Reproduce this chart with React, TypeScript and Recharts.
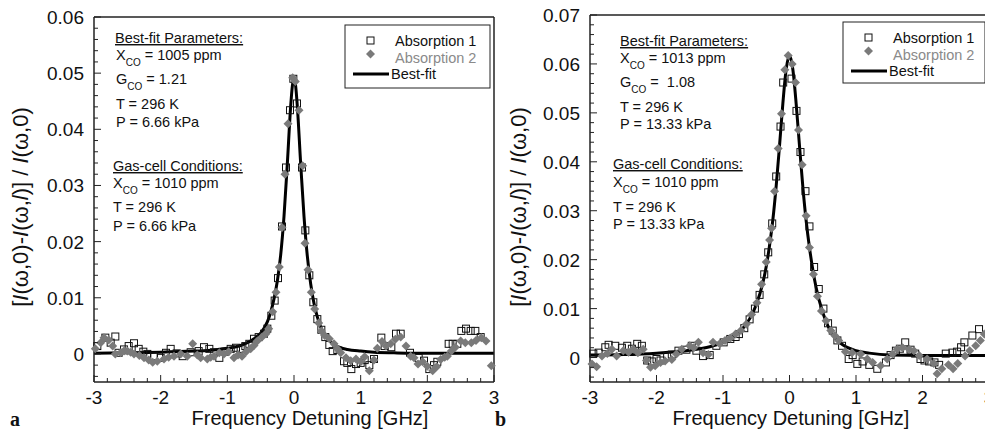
import React from 'react';
import { ComposedChart, Scatter, Line, XAxis, YAxis } from 'recharts';

const SANS = '"Liberation Sans", Arial, Helvetica, sans-serif';
const SERIF = '"Liberation Serif", "Times New Roman", serif';
const AXIS = '#222';
const GREY = '#7a7a7a';

type Pt = [number, number];

// ---- panel a: 6.66 kPa ----
const abs1A: Pt[] = [
  [-2.95, 0.0014], [-2.83, 0.0029], [-2.75, 0.002], [-2.68, 0.0031], [-2.63, 0.0002], [-2.55, 0.0008],
  [-2.48, 0.0014], [-2.4, 0.0019], [-2.33, 0.0009], [-2.26, 0.0004], [-2.2, 0.0], [-2.1, -0.0004],
  [-2.0, -0.0007], [-1.92, 0.0002], [-1.85, 0.0009], [-1.76, 0.0001], [-1.67, -0.0004], [-1.55, 0.0003],
  [-1.43, 0.0005], [-1.35, 0.0012], [-1.27, 0.0009], [-1.2, 0.0003], [-1.12, -0.0007], [-1.03, 0.0004],
  [-0.95, 0.0009], [-0.87, 0.0011], [-0.8, 0.0009], [-0.73, 0.0014], [-0.67, 0.0018], [-0.6, 0.0027],
  [-0.53, 0.003], [-0.45, 0.0036], [-0.4, 0.0045], [-0.34, 0.0068], [-0.29, 0.0095], [-0.24, 0.0135],
  [-0.18, 0.0227], [-0.12, 0.0332], [-0.06, 0.0434], [-0.01, 0.049], [0.045, 0.0446], [0.12, 0.0332],
  [0.17, 0.022], [0.23, 0.014], [0.29, 0.0092], [0.35, 0.0062], [0.41, 0.0043], [0.47, 0.003],
  [0.53, 0.0016], [0.58, 0.0005], [0.65, 0.0007], [0.75, -0.0013], [0.8, -0.0016], [0.86, -0.0027],
  [0.93, -0.0018], [1.0, -0.0016], [1.06, -0.0011], [1.13, -0.002], [1.2, -0.0009], [1.31, 0.0029],
  [1.36, 0.0014], [1.46, 0.0012], [1.53, 0.0036], [1.6, 0.0036], [1.74, 0.0002], [1.87, -0.0007],
  [1.95, -0.0012], [2.03, -0.0027], [2.1, -0.002], [2.15, -0.0014], [2.32, 0.0018], [2.38, 0.0018],
  [2.45, 0.0018], [2.51, 0.0041], [2.58, 0.0045], [2.65, 0.0041], [2.72, 0.0041], [2.8, 0.003],
];
const abs2A: Pt[] = [
  [-2.98, 0.0009], [-2.9, 0.002], [-2.85, 0.0029], [-2.78, 0.0025], [-2.72, 0.0014], [-2.68, 0.0],
  [-2.6, 0.0002], [-2.55, 0.0005], [-2.5, 0.0005], [-2.45, 0.0003], [-2.4, 0.0], [-2.32, -0.0003],
  [-2.25, -0.0007], [-2.18, -0.0011], [-2.12, -0.0015], [-2.05, -0.0013], [-1.95, -0.0009], [-1.88, -0.0006],
  [-1.8, -0.0004], [-1.7, 0.0], [-1.6, -0.0004], [-1.52, 0.0018], [-1.45, -0.0002], [-1.4, -0.0007],
  [-1.3, -0.0009], [-1.25, -0.0006], [-1.2, -0.0004], [-1.12, 0.0002], [-1.05, 0.0], [-0.98, 0.0004],
  [-0.9, -0.0007], [-0.84, -0.0002], [-0.78, -0.0004], [-0.72, 0.0004], [-0.65, 0.0009], [-0.6, 0.0015],
  [-0.55, 0.0023], [-0.48, 0.003], [-0.42, 0.0036], [-0.38, 0.0045], [-0.32, 0.0075], [-0.27, 0.011],
  [-0.22, 0.0155], [-0.18, 0.0225], [-0.135, 0.032], [-0.09, 0.041], [-0.02, 0.0492], [0.02, 0.0485],
  [0.075, 0.0434], [0.13, 0.0335], [0.165, 0.0197], [0.21, 0.015], [0.26, 0.011], [0.31, 0.008],
  [0.37, 0.0055], [0.41, 0.0041], [0.46, 0.0033], [0.53, 0.0027], [0.6, 0.0018], [0.65, 0.0009],
  [0.7, 0.0002], [0.78, -0.0007], [0.85, -0.0012], [0.93, -0.0009], [1.0, -0.0014], [1.06, -0.0005],
  [1.13, -0.003], [1.2, -0.0011], [1.25, 0.001], [1.32, 0.0022], [1.38, 0.0014], [1.45, 0.0018],
  [1.52, 0.0026], [1.6, 0.003], [1.68, 0.0014], [1.75, -0.0004], [1.8, -0.0007], [1.86, -0.0018],
  [1.93, -0.0014], [2.0, -0.0022], [2.08, -0.003], [2.14, -0.0023], [2.2, -0.001], [2.26, -0.0006],
  [2.3, -0.0004], [2.36, 0.0005], [2.42, 0.0012], [2.5, 0.0023], [2.57, 0.002], [2.66, 0.002],
  [2.73, 0.0024], [2.81, 0.0029], [2.88, 0.0023], [2.96, -0.0021],
];
const fitA: Pt[] = [
  [-3, 0.0001], [-2.5, 0.0002], [-2, 0.0003], [-1.5, 0.0005], [-1.2, 0.0007], [-1.0, 0.001],
  [-0.8, 0.0015], [-0.7, 0.002], [-0.6, 0.0027], [-0.5, 0.0037], [-0.4, 0.0057], [-0.35, 0.0074],
  [-0.3, 0.0098], [-0.25, 0.013], [-0.2, 0.0176], [-0.15, 0.0245], [-0.1, 0.0339], [-0.05, 0.0441],
  [-0.025, 0.0477], [0, 0.0492], [0.025, 0.0477], [0.05, 0.0441], [0.1, 0.0339], [0.15, 0.0245],
  [0.2, 0.0174], [0.25, 0.0125], [0.3, 0.009], [0.35, 0.0066], [0.4, 0.0048], [0.5, 0.0028],
  [0.6, 0.0017], [0.7, 0.0011], [0.8, 0.0008], [1.0, 0.0005], [1.2, 0.0003], [1.5, 0.0002],
  [2, 0.0001], [3, 0.0001],
];

// ---- panel b: 13.33 kPa ----
const abs1B: Pt[] = [
  [-2.95, 0.0008], [-2.87, 0.001], [-2.77, 0.0021], [-2.72, 0.0026], [-2.62, 0.0024], [-2.52, 0.002],
  [-2.44, 0.0024], [-2.37, 0.0018], [-2.29, 0.0028], [-2.22, 0.0024], [-2.14, -0.0006], [-2.07, -0.0008],
  [-2.0, -0.0003], [-1.94, -0.0006], [-1.84, 0.0003], [-1.77, 0.0006], [-1.67, 0.0014], [-1.55, 0.0016],
  [-1.47, 0.0024], [-1.4, 0.0014], [-1.3, 0.0003], [-1.2, 0.0005], [-1.1, 0.0024], [-0.99, 0.0031],
  [-0.89, 0.0038], [-0.81, 0.0042], [-0.76, 0.0048], [-0.68, 0.006], [-0.6, 0.0078], [-0.52, 0.01],
  [-0.45, 0.0128], [-0.38, 0.017], [-0.32, 0.0215], [-0.26, 0.0274], [-0.2, 0.037], [-0.135, 0.0472],
  [-0.095, 0.0562], [0.03, 0.057], [0.105, 0.0504], [0.165, 0.042], [0.24, 0.034], [0.3, 0.0268],
  [0.37, 0.0185], [0.44, 0.014], [0.51, 0.01], [0.58, 0.007], [0.65, 0.0055], [0.72, 0.0035],
  [0.79, 0.0024], [0.89, -0.0003], [0.95, 0.0005], [1.02, -0.0013], [1.1, -0.0008], [1.2, -0.0015],
  [1.32, -0.0023], [1.45, -0.001], [1.52, 0.0005], [1.6, 0.0014], [1.66, 0.0018], [1.74, 0.0031],
  [1.82, 0.0016], [1.89, 0.0008], [1.97, -0.0003], [2.03, -0.0006], [2.1, -0.0008], [2.18, -0.001],
  [2.25, -0.0015], [2.35, 0.0008], [2.45, 0.001], [2.52, 0.0012], [2.58, 0.0021], [2.63, 0.0031],
  [2.75, 0.0045], [2.85, 0.0058],
];
const abs2B: Pt[] = [
  [-2.97, -0.0013], [-2.9, -0.0019], [-2.82, 0.0003], [-2.74, 0.0008], [-2.67, 0.0017], [-2.6, 0.0003],
  [-2.5, 0.0014], [-2.42, 0.0011], [-2.35, 0.0017], [-2.28, 0.001], [-2.2, 0.0017], [-2.15, -0.0006],
  [-2.09, -0.002], [-2.02, -0.0017], [-1.94, -0.001], [-1.87, -0.0007], [-1.77, -0.0004], [-1.7, 0.0007],
  [-1.62, 0.0017], [-1.5, 0.0024], [-1.44, 0.002], [-1.37, 0.0031], [-1.3, 0.001], [-1.22, 0.0006],
  [-1.15, 0.0031], [-1.05, 0.0028], [-0.97, 0.0035], [-0.89, 0.004], [-0.81, 0.0048], [-0.73, 0.0055],
  [-0.65, 0.0068], [-0.57, 0.0088], [-0.49, 0.0112], [-0.42, 0.015], [-0.35, 0.0195], [-0.3, 0.024],
  [-0.27, 0.0264], [-0.225, 0.034], [-0.17, 0.0427], [-0.12, 0.0498], [-0.07, 0.0588], [-0.02, 0.0617],
  [0.04, 0.06], [0.09, 0.0562], [0.135, 0.0465], [0.19, 0.0394], [0.25, 0.029], [0.3, 0.0225],
  [0.36, 0.017], [0.42, 0.0125], [0.48, 0.0095], [0.55, 0.0075], [0.62, 0.0055], [0.68, 0.0045],
  [0.74, 0.0035], [0.84, 0.0012], [0.94, 0.001], [1.07, 0.0007], [1.17, -0.0003], [1.25, -0.001],
  [1.37, -0.0017], [1.47, -0.0003], [1.55, 0.0007], [1.62, 0.0017], [1.7, 0.002], [1.8, 0.0017],
  [1.87, 0.0014], [1.95, 0.0004], [2.07, -0.0003], [2.17, -0.0012], [2.22, -0.0033], [2.29, -0.0023],
  [2.39, -0.0015], [2.46, -0.0023], [2.53, -0.0012], [2.64, 0.0003], [2.71, 0.0014], [2.8, 0.0024],
  [2.87, 0.0035], [2.93, 0.0048],
];
const fitB: Pt[] = [
  [-3, 0.0005], [-2.5, 0.0006], [-2, 0.0009], [-1.5, 0.0015], [-1.2, 0.0022], [-1.0, 0.0031],
  [-0.8, 0.0047], [-0.7, 0.006], [-0.6, 0.0079], [-0.5, 0.0108], [-0.4, 0.0153], [-0.35, 0.0186],
  [-0.3, 0.0229], [-0.25, 0.0282], [-0.2, 0.0351], [-0.15, 0.0433], [-0.1, 0.0519], [-0.05, 0.0589],
  [0, 0.0617], [0.05, 0.0589], [0.1, 0.0519], [0.15, 0.0433], [0.2, 0.035], [0.25, 0.028],
  [0.3, 0.0225], [0.35, 0.018], [0.4, 0.0143], [0.5, 0.0092], [0.6, 0.0058], [0.7, 0.0038],
  [0.8, 0.0026], [1.0, 0.0014], [1.2, 0.0009], [1.5, 0.0005], [2, 0.0004], [2.5, 0.0004], [3, 0.0004],
];

// ticks: major every 1 GHz / 0.01, minor every 0.2 GHz / 0.002
const xTicks = Array.from({ length: 31 }, (_, i) => Math.round((-3 + i * 0.2) * 10) / 10);
const yTicksA = Array.from({ length: 33 }, (_, i) => Math.round((-0.004 + i * 0.002) * 1000) / 1000);
const yTicksB = Array.from({ length: 38 }, (_, i) => Math.round((-0.004 + i * 0.002) * 1000) / 1000);

const toXY = (pts: Pt[]) => pts.map(([x, y]) => ({ x, y }));
const isMajorX = (v: number) => Math.abs(v - Math.round(v)) < 1e-6;
const isMajorY = (v: number) => Math.abs(v * 100 - Math.round(v * 100)) < 1e-6;
const MAJOR = 7;
const MINOR = 4;

const BottomTick = ({ x, y, payload }: any) => {
  const major = isMajorX(payload.value);
  return (
    <g>
      <line x1={x} x2={x} y1={y} y2={y - (major ? MAJOR : MINOR)} stroke={AXIS} />
      {major && (
        <text x={x} y={y + 22} textAnchor="middle" fontSize={19} fontFamily={SANS} fill="#111">
          {payload.value}
        </text>
      )}
    </g>
  );
};
const TopTick = ({ x, y, payload }: any) => (
  <line x1={x} x2={x} y1={y} y2={y + (isMajorX(payload.value) ? MAJOR : MINOR)} stroke={AXIS} />
);
const LeftTick = ({ x, y, payload }: any) => {
  const major = isMajorY(payload.value);
  return (
    <g>
      <line x1={x} x2={x + (major ? MAJOR : MINOR)} y1={y} y2={y} stroke={AXIS} />
      {major && (
        <text x={x - 10} y={y + 7} textAnchor="end" fontSize={19} fontFamily={SANS} fill="#111">
          {payload.value === 0 ? '0' : payload.value.toFixed(2)}
        </text>
      )}
    </g>
  );
};
const RightTick = ({ x, y, payload }: any) => (
  <line x1={x} x2={x - (isMajorY(payload.value) ? MAJOR : MINOR)} y1={y} y2={y} stroke={AXIS} />
);

const Square = (p: any) => (
  <rect x={p.cx - 3.5} y={p.cy - 3.5} width={7} height={7} fill="none" stroke="#111" strokeWidth={1} />
);
const Diamond = (p: any) => (
  <polygon
    points={`${p.cx},${p.cy - 4.5} ${p.cx + 4.5},${p.cy} ${p.cx},${p.cy + 4.5} ${p.cx - 4.5},${p.cy}`}
    fill={GREY}
  />
);

type PanelProps = {
  left: number;
  margin: { top: number; right: number; bottom: number; left: number };
  yMax: number;
  yTicks: number[];
  abs1: Pt[];
  abs2: Pt[];
  fit: Pt[];
};

const Panel = ({ left, margin, yMax, yTicks, abs1, abs2, fit }: PanelProps) => {
  const axisLine = { stroke: AXIS, strokeWidth: 1.5 };
  return (
    <div style={{ position: 'absolute', left, top: 0 }}>
      <ComposedChart width={500} height={432} margin={margin}>
        <XAxis xAxisId="b" dataKey="x" type="number" domain={[-3, 3]} ticks={xTicks} interval={0}
          height={30} tickSize={0} tickMargin={0} tickLine={false} axisLine={axisLine} tick={BottomTick} />
        <XAxis xAxisId="t" orientation="top" dataKey="x" type="number" domain={[-3, 3]} ticks={xTicks}
          interval={0} height={1} tickSize={0} tickMargin={0} tickLine={false} axisLine={axisLine} tick={TopTick} />
        <YAxis yAxisId="l" dataKey="y" type="number" domain={[-0.005, yMax]} ticks={yTicks} interval={0}
          width={60} tickSize={0} tickMargin={0} tickLine={false} axisLine={axisLine} tick={LeftTick} />
        <YAxis yAxisId="r" orientation="right" dataKey="y" type="number" domain={[-0.005, yMax]} ticks={yTicks}
          interval={0} width={1} tickSize={0} tickMargin={0} tickLine={false} axisLine={axisLine} tick={RightTick} />
        <Line xAxisId="b" yAxisId="l" data={toXY(fit)} dataKey="y" type="monotone" dot={false}
          stroke="#000" strokeWidth={3} isAnimationActive={false} />
        <Scatter xAxisId="b" yAxisId="l" data={toXY(abs1)} shape={Square} isAnimationActive={false} />
        <Scatter xAxisId="b" yAxisId="l" data={toXY(abs2)} shape={Diamond} isAnimationActive={false} />
      </ComposedChart>
    </div>
  );
};

const txt = { fontFamily: SANS, fontSize: 14.5, fill: '#111' };

const SubLine = ({ x, y, pre, post }: { x: number; y: number; pre: string; post: string }) => (
  <text x={x} y={y} {...txt}>
    <tspan>{pre}</tspan>
    <tspan dy={6} fontSize={10}>CO</tspan>
    <tspan dy={-6} style={{ whiteSpace: 'pre' }}>{post}</tspan>
  </text>
);

const Legend = ({ x, y, w, h }: { x: number; y: number; w: number; h: number }) => (
  <g>
    <rect x={x} y={y} width={w} height={h} fill="#fff" stroke="#222" strokeWidth={1} />
    <rect x={x + 22} y={y + 12} width={7} height={7} fill="none" stroke="#111" />
    <text x={x + 50} y={y + 21} {...txt}>Absorption 1</text>
    <polygon points={`${x + 25.5},${y + 24.5} ${x + 30},${y + 29} ${x + 25.5},${y + 33.5} ${x + 21},${y + 29}`} fill={GREY} />
    <text x={x + 50} y={y + 38} {...txt} fill="#8a8a8a">Absorption 2</text>
    <line x1={x + 8} x2={x + 44} y1={y + 49} y2={y + 49} stroke="#000" strokeWidth={3} />
    <text x={x + 46} y={y + 54} {...txt}>Best-fit</text>
  </g>
);

const YLabel = ({ cx, cy }: { cx: number; cy: number }) => (
  <text transform={`translate(${cx},${cy}) rotate(-90)`} textAnchor="middle" fontFamily={SANS} fontSize={22} fill="#111">
    [<tspan fontStyle="italic">I</tspan>(ω,0)-<tspan fontStyle="italic">I</tspan>(ω,<tspan fontStyle="italic">l</tspan>)] / <tspan fontStyle="italic">I</tspan>(ω,0)
  </text>
);

export default function App() {
  return (
    <div style={{ position: 'absolute', left: 0, top: 0, width: 985, height: 432, overflow: 'hidden', background: '#fff' }}>
      <Panel left={0} margin={{ top: 16, right: 5, bottom: 20, left: 34 }} yMax={0.06} yTicks={yTicksA}
        abs1={abs1A} abs2={abs2A} fit={fitA} />
      <Panel left={500} margin={{ top: 14, right: 10, bottom: 20, left: 30 }} yMax={0.07} yTicks={yTicksB}
        abs1={abs1B} abs2={abs2B} fit={fitB} />
      <svg width={985} height={432} style={{ position: 'absolute', left: 0, top: 0, pointerEvents: 'none' }}>
        {/* panel a annotations */}
        <text x={115} y={43} {...txt} style={{ textDecoration: 'underline' }}>Best-fit Parameters:</text>
        <SubLine x={116} y={60} pre="X" post=" = 1005 ppm" />
        <SubLine x={116} y={84} pre="G" post=" = 1.21" />
        <text x={116} y={109} {...txt}>T = 296 K</text>
        <text x={116} y={127} {...txt}>P = 6.66 kPa</text>
        <text x={113} y={171} {...txt} style={{ textDecoration: 'underline' }}>Gas-cell Conditions:</text>
        <SubLine x={113} y={188} pre="X" post=" = 1010 ppm" />
        <text x={113} y={212} {...txt}>T = 296 K</text>
        <text x={113} y={231} {...txt}>P = 6.66 kPa</text>
        <Legend x={345} y={25} w={145} h={63} />

        {/* panel b annotations */}
        <text x={620} y={46} {...txt} style={{ textDecoration: 'underline' }}>Best-fit Parameters:</text>
        <SubLine x={620} y={63} pre="X" post=" = 1013 ppm" />
        <SubLine x={620} y={87} pre="G" post=" =  1.08" />
        <text x={620} y={112} {...txt}>T = 296 K</text>
        <text x={620} y={129} {...txt}>P = 13.33 kPa</text>
        <text x={613} y={169} {...txt} style={{ textDecoration: 'underline' }}>Gas-cell Conditions:</text>
        <SubLine x={613} y={187} pre="X" post=" = 1010 ppm" />
        <text x={613} y={212} {...txt}>T = 296 K</text>
        <text x={613} y={229} {...txt}>P = 13.33 kPa</text>
        <Legend x={843} y={22} w={142} h={61} />

        {/* axis titles */}
        <YLabel cx={28} cy={207} />
        <YLabel cx={526} cy={207} />
        <text x={310} y={425} textAnchor="middle" fontFamily={SANS} fontSize={20} fill="#111">Frequency Detuning [GHz]</text>
        <text x={791} y={425} textAnchor="middle" fontFamily={SANS} fontSize={20} fill="#111">Frequency Detuning [GHz]</text>
        <text x={10} y={426} fontFamily={SERIF} fontWeight="bold" fontSize={20} fill="#111">a</text>
        <text x={495} y={426} fontFamily={SERIF} fontWeight="bold" fontSize={20} fill="#111">b</text>
      </svg>
    </div>
  );
}
